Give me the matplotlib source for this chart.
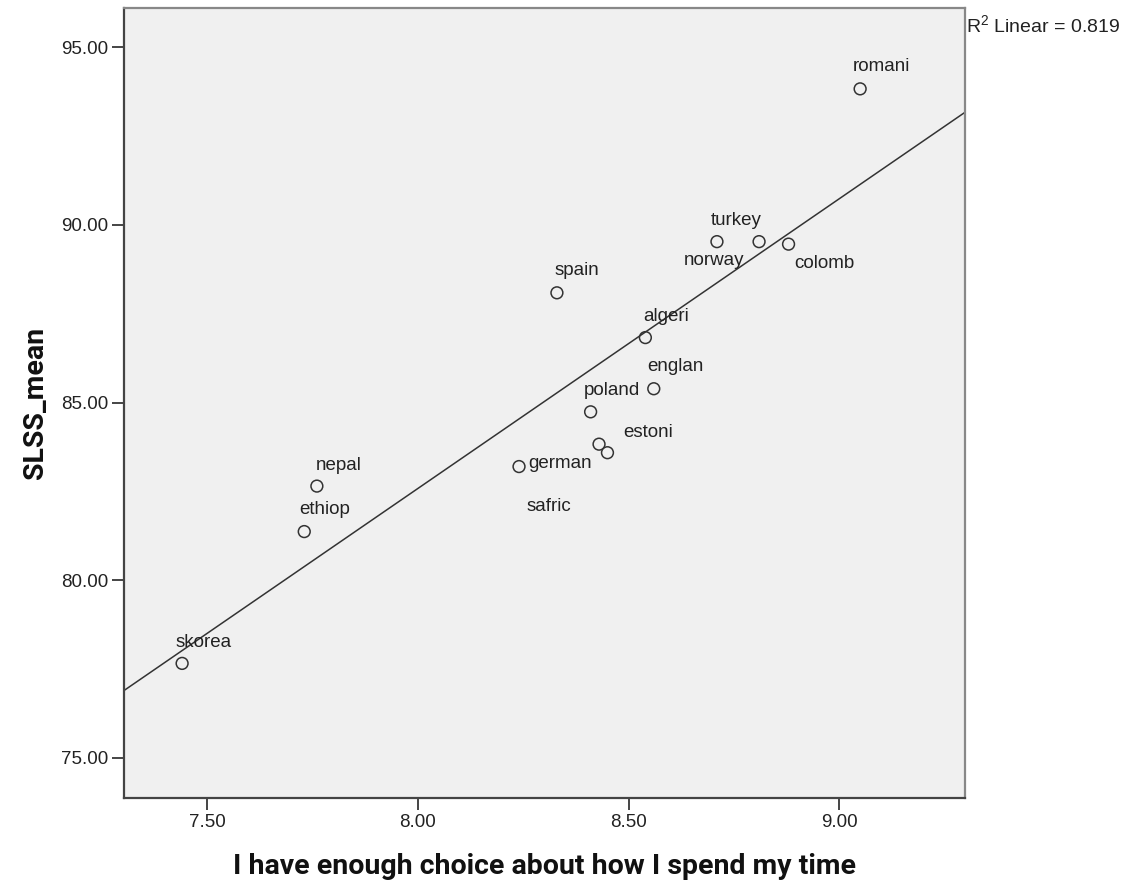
import numpy as np
import matplotlib
matplotlib.use("Agg")
import matplotlib.pyplot as plt

# ---- data ----
countries = ["romani", "turkey", "norway", "colomb", "spain", "algeri", "englan",
             "poland", "estoni", "safric", "german", "nepal", "ethiop", "skorea"]
choice = [9.05, 8.71, 8.81, 8.88, 8.33, 8.54, 8.56,
          8.41, 8.43, 8.45, 8.24, 7.76, 7.73, 7.44]
slss_mean = [93.83, 89.53, 89.53, 89.46, 88.09, 86.83, 85.39,
             84.74, 83.83, 83.59, 83.20, 82.65, 81.37, 77.66]
x_ticks = [7.50, 8.00, 8.50, 9.00]
y_ticks = [75.00, 80.00, 85.00, 90.00, 95.00]
r2_label = r"R$^{2}$ Linear = 0.819"

# label offsets in pixels (dx to text left, dy downward to text centre)
label_offsets = {
    "romani": (-7, -22), "turkey": (-6, -21), "norway": (-75, 19),
    "colomb": (6, 19), "spain": (-2, -22), "algeri": (-2, -21),
    "englan": (-7, -22), "poland": (-7, -21), "estoni": (24, -12),
    "safric": (-81, 54), "german": (9, -3), "nepal": (-1, -21),
    "ethiop": (-5, -22), "skorea": (-7, -21),
}

plt.rcParams['font.family'] = ['Liberation Sans', 'DejaVu Sans']
plt.rcParams['mathtext.fontset'] = 'custom'
plt.rcParams['mathtext.rm'] = 'Liberation Sans'
plt.rcParams['mathtext.it'] = 'Liberation Sans'
plt.rcParams['mathtext.default'] = 'regular'

W, H = 1122, 883
fig = plt.figure(figsize=(W / 100, H / 100), dpi=100)
ax_bottom_px, ax_top_px, ax_left_px, ax_right_px = 797.7, 7.5, 124, 965
ax = fig.add_axes([ax_left_px / W, 1 - ax_bottom_px / H,
                   (ax_right_px - ax_left_px) / W, (ax_bottom_px - ax_top_px) / H])
ax.set_facecolor("#f0f0f0")

ax.set_xlim(7.302, 9.299)
ax.set_ylim(73.88, 96.12)

# fit line
slope, intercept = np.polyfit(choice, slss_mean, 1)
xs = np.array(ax.get_xlim())
ax.plot(xs, slope * xs + intercept, color="#333333", lw=1.1, zorder=2)

ax.scatter(choice, slss_mean, s=(8.5) ** 2, facecolors="none",
           edgecolors="#333333", linewidths=1.1, zorder=3)

for name, xv, yv in zip(countries, choice, slss_mean):
    dx, dy = label_offsets[name]
    ax.annotate(name, (xv, yv), xytext=(dx, -dy), textcoords="offset pixels",
                ha="left", va="center", fontsize=13.5, color="#222222", zorder=4)

ax.set_xticks(x_ticks)
ax.set_xticklabels([f"{v:.2f}" for v in x_ticks])
ax.set_yticks(y_ticks)
ax.set_yticklabels([f"{v:.2f}" for v in y_ticks])
ax.tick_params(direction="out", length=8.5, width=1.4, color="#444444",
               labelsize=13.5, labelcolor="#222222", pad=3)

for side in ["left", "bottom"]:
    ax.spines[side].set_color("#444444")
    ax.spines[side].set_linewidth(1.6)
for side in ["top", "right"]:
    ax.spines[side].set_color("#888888")
    ax.spines[side].set_linewidth(1.6)

plot_h = ax_bottom_px - ax_top_px
plot_w = ax_right_px - ax_left_px
ax.set_xlabel("I have enough choice about how I spend my time",
              fontfamily="Roboto", fontweight="bold", fontsize=20.5,
              color="#111111", va="baseline")
ax.xaxis.set_label_coords(0.5, -(874 - ax_bottom_px) / plot_h)
ax.set_ylabel("SLSS_mean", fontfamily="Roboto", fontweight="bold",
              fontsize=20.5, color="#111111", va="baseline")
ax.yaxis.set_label_coords(-(ax_left_px - 42.5) / plot_w, 0.5)

fig.text(966 / W, 1 - 25 / H, r2_label, ha="left", va="center",
         fontsize=14, color="#222222")

fig.savefig("out.png", dpi=100, facecolor="white")
